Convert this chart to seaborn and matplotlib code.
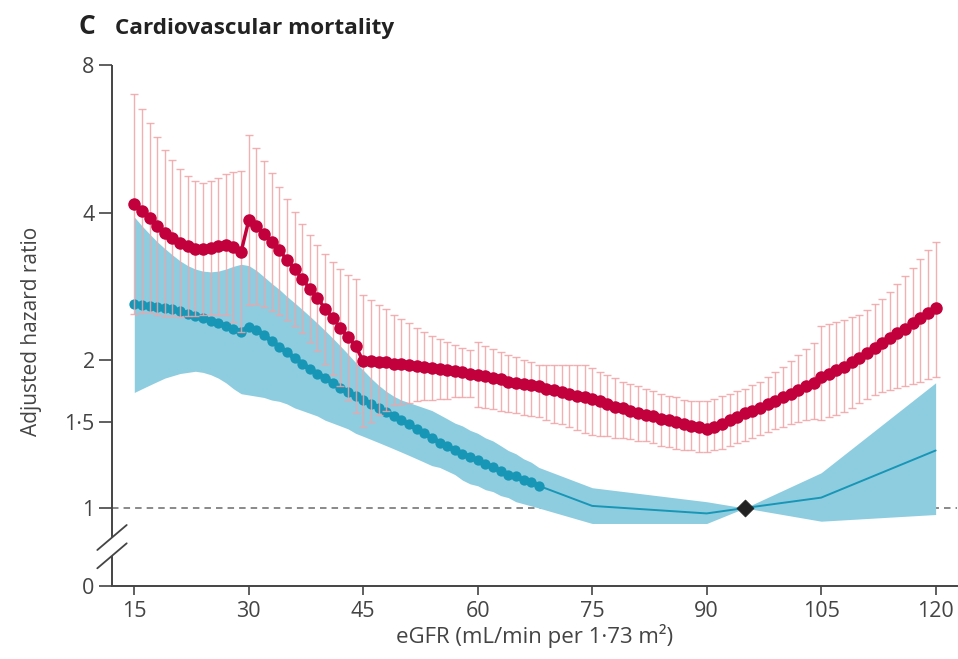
import matplotlib
matplotlib.use("Agg")
import matplotlib.pyplot as plt
from matplotlib.ticker import FixedLocator, FixedFormatter, NullLocator
import numpy as np
import pandas as pd
import seaborn as sns

# eGFR grid of the continuous red estimates (one point per unit)
red_egfr = list(range(15, 121))
red_hr = [
    4.17, 4.03, 3.91, 3.76, 3.64, 3.55, 3.47, 3.42, 3.38, 3.37,
    3.39, 3.42, 3.44, 3.41, 3.33, 3.86, 3.76, 3.62, 3.48, 3.35,
    3.21, 3.07, 2.93, 2.80, 2.68, 2.55, 2.44, 2.33, 2.23, 2.14,
    1.99, 1.99, 1.98, 1.98, 1.97, 1.97, 1.96, 1.95, 1.94, 1.93,
    1.92, 1.91, 1.90, 1.89, 1.88, 1.87, 1.86, 1.84, 1.83, 1.81,
    1.80, 1.79, 1.78, 1.77, 1.75, 1.74, 1.72, 1.71, 1.69, 1.68,
    1.67, 1.65, 1.63, 1.61, 1.60, 1.58, 1.56, 1.55, 1.54, 1.52,
    1.51, 1.50, 1.48, 1.47, 1.46, 1.45, 1.46, 1.48, 1.51, 1.53,
    1.56, 1.58, 1.60, 1.63, 1.65, 1.68, 1.71, 1.74, 1.77, 1.80,
    1.85, 1.88, 1.91, 1.94, 1.98, 2.02, 2.07, 2.12, 2.17, 2.22,
    2.27, 2.32, 2.38, 2.44, 2.50, 2.56,
]
red_lower = [
    2.49, 2.50, 2.51, 2.48, 2.46, 2.46, 2.45, 2.46, 2.46, 2.47,
    2.48, 2.48, 2.47, 2.40, 2.28, 2.59, 2.61, 2.57, 2.52, 2.48,
    2.42, 2.35, 2.27, 2.18, 2.09, 1.97, 1.87, 1.77, 1.66, 1.56,
    1.46, 1.50, 1.55, 1.58, 1.62, 1.63, 1.64, 1.65, 1.66, 1.66,
    1.67, 1.67, 1.68, 1.68, 1.68, 1.61, 1.60, 1.59, 1.58, 1.57,
    1.56, 1.55, 1.54, 1.53, 1.51, 1.49, 1.48, 1.46, 1.44, 1.42,
    1.41, 1.40, 1.40, 1.39, 1.39, 1.38, 1.37, 1.37, 1.36, 1.34,
    1.33, 1.32, 1.31, 1.31, 1.30, 1.30, 1.31, 1.32, 1.34, 1.36,
    1.37, 1.39, 1.41, 1.43, 1.45, 1.46, 1.48, 1.50, 1.51, 1.52,
    1.51, 1.53, 1.55, 1.57, 1.60, 1.64, 1.67, 1.70, 1.72, 1.74,
    1.76, 1.77, 1.79, 1.81, 1.83, 1.85,
]
red_upper = [
    6.97, 6.50, 6.08, 5.71, 5.38, 5.12, 4.92, 4.75, 4.65, 4.60,
    4.64, 4.71, 4.79, 4.85, 4.87, 5.76, 5.42, 5.10, 4.81, 4.52,
    4.26, 4.01, 3.79, 3.60, 3.44, 3.30, 3.18, 3.07, 2.99, 2.93,
    2.72, 2.65, 2.59, 2.54, 2.48, 2.43, 2.38, 2.33, 2.28, 2.24,
    2.21, 2.18, 2.15, 2.12, 2.10, 2.18, 2.14, 2.11, 2.08, 2.05,
    2.03, 2.00, 1.98, 1.96, 1.96, 1.96, 1.96, 1.96, 1.96, 1.96,
    1.93, 1.89, 1.87, 1.84, 1.81, 1.79, 1.77, 1.75, 1.73, 1.71,
    1.69, 1.68, 1.66, 1.65, 1.65, 1.65, 1.67, 1.69, 1.71, 1.73,
    1.75, 1.78, 1.81, 1.85, 1.89, 1.94, 1.99, 2.05, 2.11, 2.17,
    2.35, 2.37, 2.39, 2.42, 2.45, 2.48, 2.53, 2.60, 2.67, 2.76,
    2.86, 2.97, 3.09, 3.22, 3.36, 3.49,
]

# Blue (categorical) estimates: per-unit points 15-68, then coarse knots
blue_egfr = list(range(15, 69)) + [75, 90, 95, 105, 120]
blue_hr = [
    2.60, 2.59, 2.58, 2.57, 2.56, 2.54, 2.52, 2.49, 2.46, 2.44,
    2.41, 2.38, 2.35, 2.32, 2.29, 2.34, 2.31, 2.25, 2.19, 2.13,
    2.08, 2.02, 1.97, 1.92, 1.88, 1.84, 1.80, 1.76, 1.72, 1.69,
    1.66, 1.63, 1.60, 1.57, 1.54, 1.51, 1.48, 1.45, 1.42, 1.39,
    1.36, 1.34, 1.31, 1.29, 1.27, 1.25, 1.23, 1.21, 1.19, 1.17,
    1.16, 1.14, 1.13, 1.11,
    1.01, 0.975, 1.00, 1.05, 1.31,
]
blue_lower = [
    1.72, 1.75, 1.78, 1.81, 1.84, 1.86, 1.88, 1.89, 1.90, 1.89,
    1.87, 1.84, 1.80, 1.75, 1.71, 1.70, 1.69, 1.68, 1.66, 1.65,
    1.63, 1.60, 1.58, 1.56, 1.54, 1.51, 1.49, 1.47, 1.45, 1.42,
    1.40, 1.38, 1.36, 1.34, 1.32, 1.30, 1.28, 1.26, 1.24, 1.22,
    1.21, 1.19, 1.17, 1.14, 1.12, 1.11, 1.09, 1.08, 1.06, 1.05,
    1.03, 1.02, 1.01, 1.00,
    0.93, 0.93, 1.00, 0.94, 0.97,
]
blue_upper = [
    3.92, 3.76, 3.62, 3.49, 3.38, 3.28, 3.19, 3.12, 3.07, 3.04,
    3.03, 3.04, 3.07, 3.11, 3.14, 3.12, 3.05, 2.96, 2.87, 2.79,
    2.70, 2.62, 2.54, 2.46, 2.38, 2.30, 2.22, 2.14, 2.06, 1.98,
    1.91, 1.84, 1.78, 1.73, 1.69, 1.66, 1.64, 1.62, 1.60, 1.58,
    1.55, 1.52, 1.49, 1.47, 1.44, 1.42, 1.39, 1.37, 1.34, 1.31,
    1.29, 1.26, 1.24, 1.21,
    1.10, 1.03, 1.00, 1.18, 1.80,
]
blue_dot_last = 68          # per-unit markers are shown up to this eGFR
reference_egfr = 95         # reference category (HR = 1)

x_ticks = [15, 30, 45, 60, 75, 90, 105, 120]
y_ticks = [1, 1.5, 2, 4, 8]
y_tick_labels = ["1", "1·5", "2", "4", "8"]

RED = "#c1003c"
PINK = "#f2a3a6"
BLUE_FILL = "#8ecde0"
BLUE = "#1896b6"
AXIS = "#444444"

sns.set_style("ticks")
plt.rcParams["font.family"] = ["Open Sans", "DejaVu Sans"]

fig = plt.figure(figsize=(9.58, 6.59), dpi=100)
W, H = 958, 659
ax = fig.add_axes([112 / W, (H - 586) / H, 845 / W, 521 / H])

red = pd.DataFrame({"egfr": red_egfr, "hr": red_hr, "lo": red_lower, "hi": red_upper})
blue = pd.DataFrame({"egfr": blue_egfr, "hr": blue_hr, "lo": blue_lower, "hi": blue_upper})
blue_dots = blue[blue["egfr"] <= blue_dot_last]

# confidence band of the blue estimates
ax.fill_between(blue["egfr"], blue["lo"], blue["hi"], color=BLUE_FILL, lw=0, zorder=1)

# blue estimates: thin line over all knots, dots on the per-unit part
sns.lineplot(data=blue, x="egfr", y="hr", color=BLUE, lw=1.4, ax=ax, zorder=2,
             estimator=None, sort=True)
sns.lineplot(data=blue_dots, x="egfr", y="hr", color=BLUE, lw=3.5, ax=ax, zorder=2.5,
             estimator=None, sort=True)
sns.scatterplot(data=blue_dots, x="egfr", y="hr", color=BLUE, s=55, linewidth=0,
                ax=ax, zorder=3)

# red confidence intervals
ax.errorbar(red["egfr"], red["hr"], yerr=[red["hr"] - red["lo"], red["hi"] - red["hr"]],
            fmt="none", ecolor=PINK, elinewidth=1.0, capsize=3.2, capthick=1.0,
            alpha=0.85, zorder=4)

# red estimates
sns.lineplot(data=red, x="egfr", y="hr", color=RED, lw=2.5, marker="o", markersize=9,
             markeredgewidth=0, ax=ax, zorder=5, estimator=None, sort=True)

# reference point
ax.scatter([reference_egfr], [1.0], marker="D", s=75, color="#222222", zorder=6,
           edgecolor="#222222", linewidth=0.5)

# reference line at HR = 1
ax.axhline(1.0, color="#808080", lw=1.3, ls=(0, (3.6, 2.8)), zorder=0.5)

# axes: log scale with a broken segment down to 0
ax.set_yscale("log", base=2)
y_floor = 0.6935
ax.set_ylim(y_floor, 8.0)
ax.set_xlim(12.08, 122.8)
ax.yaxis.set_major_locator(FixedLocator([y_floor] + y_ticks))
ax.yaxis.set_major_formatter(FixedFormatter(["0"] + y_tick_labels))
ax.yaxis.set_minor_locator(NullLocator())
ax.set_xticks(x_ticks)
ax.set_xticklabels([str(v) for v in x_ticks])

ax.tick_params(axis="y", length=9.5, width=1.2, color=AXIS, labelcolor=AXIS,
               labelsize=15.5, pad=3)
ax.tick_params(axis="x", length=6.5, width=1.2, color=AXIS, labelcolor=AXIS,
               labelsize=15.5, pad=4)

for side in ("top", "right", "left"):
    ax.spines[side].set_visible(False)
ax.spines["bottom"].set_color(AXIS)
ax.spines["bottom"].set_linewidth(1.4)

# left axis line drawn in two pieces with a break marker
y_hi_gap = (586 - 537) / 521
y_lo_gap = (586 - 556) / 521
for y0, y1 in ((1.0, y_hi_gap), (y_lo_gap, 0.0)):
    ax.plot([0, 0], [y0, y1], transform=ax.transAxes, color=AXIS, lw=1.4,
            clip_on=False, solid_capstyle="butt", zorder=7)
dx = 14.7 / 845
for yc in ((586 - 537.5) / 521, (586 - 555.8) / 521):
    dy = 12.5 / 521
    ax.plot([-dx, dx], [yc - dy, yc + dy], transform=ax.transAxes, color=AXIS,
            lw=1.3, clip_on=False, zorder=7)

ax.set_xlabel("eGFR (mL/min per 1·73 m²)", fontsize=16, color=AXIS)
ax.xaxis.set_label_coords(0.5, (586 - 624) / 521)
ax.set_ylabel("Adjusted hazard ratio", fontsize=15, color=AXIS)
ax.yaxis.set_label_coords((42 - 112) / 845, (586 - 331) / 521)

fig.text(78 / W, 1 - 34 / H, "C", fontsize=19, fontweight="bold", color="#222222")
fig.text(115 / W, 1 - 34 / H, "Cardiovascular mortality", fontsize=16.2,
         fontweight="bold", color="#222222")

fig.savefig("out.png", dpi=100, facecolor="white")
